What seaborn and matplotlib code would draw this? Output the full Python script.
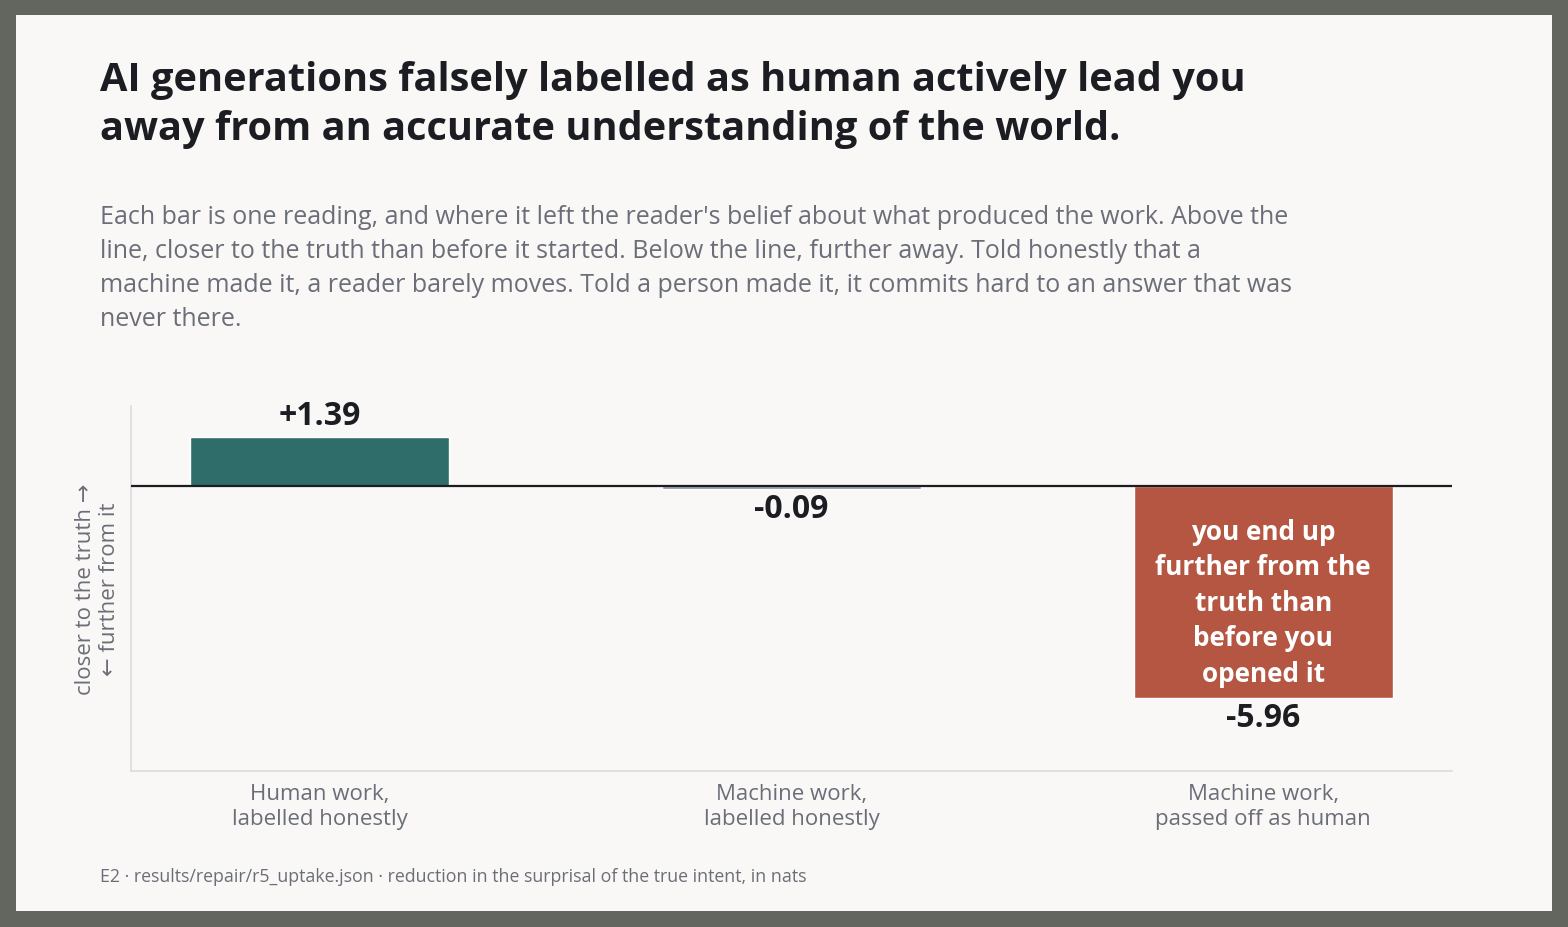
import numpy as np
import pandas as pd
import seaborn as sns
import matplotlib.pyplot as plt
from matplotlib.patches import Rectangle

categories = ['Human work,\nlabelled honestly',
              'Machine work,\nlabelled honestly',
              'Machine work,\npassed off as human']
values = [1.39, -0.09, -5.96]
value_labels = ['+1.39', '-0.09', '-5.96']
bar_colors = ['#2e6d69', '#8b8e96', '#b45641']

title = ('AI generations falsely labelled as human actively lead you\n'
         'away from an accurate understanding of the world.')
subtitle = ("Each bar is one reading, and where it left the reader's belief about what produced the work. Above the\n"
            "line, closer to the truth than before it started. Below the line, further away. Told honestly that a\n"
            "machine made it, a reader barely moves. Told a person made it, it commits hard to an answer that was\n"
            "never there.")
footer = 'E2 · results/repair/r5_uptake.json · reduction in the surprisal of the true intent, in nats'
bar_note = 'you end up\nfurther from the\ntruth than\nbefore you\nopened it'

panel = '#f9f8f6'
border = '#62665e'
grey_text = '#6b6e78'
dark = '#1c1d22'

sns.set_theme(style='white')
plt.rcParams['font.family'] = ['Open Sans', 'DejaVu Sans']

df = pd.DataFrame({'category': categories, 'value': values})

fig = plt.figure(figsize=(15.68, 9.28), dpi=100, facecolor=border)
fig.patches.append(Rectangle((16 / 1568, 16 / 928), 1536 / 1568, 896 / 928,
                             transform=fig.transFigure, facecolor=panel,
                             edgecolor='none', zorder=-10))

ax = fig.add_axes([131 / 1568, 156 / 928, 1321 / 1568, 365 / 928])
ax.set_facecolor(panel)

sns.barplot(data=df, x='category', y='value', hue='category',
            palette=bar_colors, width=0.55, legend=False, ax=ax,
            saturation=1)

ax.axhline(0, color=dark, lw=1.6, zorder=3)
ax.set_ylim(-8.0, 2.25)
ax.set_xlim(-0.4, 2.4)

for i, (v, lab) in enumerate(zip(values, value_labels)):
    if v >= 0:
        ax.annotate(lab, (i, v), xytext=(0, 3), textcoords='offset points',
                    ha='center', va='bottom', fontsize=23, fontweight='bold', color=dark)
    else:
        ax.annotate(lab, (i, v), xytext=(0, -2), textcoords='offset points',
                    ha='center', va='top', fontsize=23, fontweight='bold', color=dark)

ax.text(2, values[2] / 2 - 0.28, bar_note, ha='center', va='center', fontsize=18.8,
        fontweight='bold', color='white', linespacing=1.4)

ax.set_xlabel('')
ax.set_ylabel('closer to the truth →\n← further from it', fontsize=16,
              color=grey_text, labelpad=8, linespacing=1.15)
ax.set_yticks([])
ax.set_xticks(range(len(categories)))
ax.set_xticklabels(categories, linespacing=1.2)
ax.tick_params(axis='x', length=0, labelsize=16, labelcolor=grey_text, pad=9)
for side in ['top', 'right']:
    ax.spines[side].set_visible(False)
for side in ['left', 'bottom']:
    ax.spines[side].set_color('#dcdcdc')
    ax.spines[side].set_linewidth(1.2)

fig.text(100 / 1568, 1 - 61 / 928, title, ha='left', va='top', fontsize=28.6,
         fontweight='bold', color=dark, linespacing=1.32)
fig.text(100 / 1568, 1 - 205 / 928, subtitle, ha='left', va='top', fontsize=18,
         color=grey_text, linespacing=1.47)
fig.text(100 / 1568, 1 - 877 / 928, footer, ha='left', va='center', fontsize=12.8,
         color=grey_text)

fig.savefig('out.png', dpi=100, facecolor=border)
